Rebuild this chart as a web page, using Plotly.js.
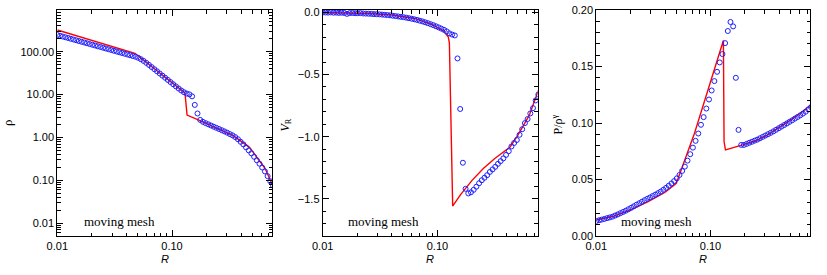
<!DOCTYPE html>
<html>
<head>
<meta charset="utf-8">
<script src="https://cdn.plot.ly/plotly-3.0.1.min.js"></script>
<style>html,body{margin:0;padding:0;background:#fff;}#chart{width:827px;height:275px;}</style>
</head>
<body>
<div id="chart"></div>
<script>
// Cell radii of the moving-mesh run (shared by all three panels)
const radius = [0.01000,0.01056,0.01114,0.01176,0.01242,0.01311,0.01384,0.01461,0.01542,0.01628,
0.01718,0.01814,0.01914,0.02021,0.02133,0.02252,0.02377,0.02509,0.02649,0.02796,
0.02951,0.03115,0.03289,0.03471,0.03664,0.03868,0.04083,0.04310,0.04550,0.04803,
0.05070,0.05352,0.05649,0.05963,0.06295,0.06645,0.07015,0.07405,0.07816,0.08251,
0.08710,0.09194,0.09705,0.1024,0.1081,0.1142,0.1205,0.1272,0.1343,0.1418,
0.1496,0.1579,0.1667,0.1760,0.1858,0.1961,0.2070,0.2185,0.2307,0.2435,
0.2570,0.2713,0.2864,0.3023,0.3192,0.3369,0.3556,0.3754,0.3963,0.4183,
0.4416,0.4661,0.4920,0.5194,0.5483,0.5788,0.6109,0.6449,0.6808,0.7186,0.7586];

// Moving mesh: density
const meshRho = [244.9,235.2,225.9,217.0,208.5,200.3,192.4,184.8,177.5,170.5,
163.8,157.3,151.1,145.2,139.4,133.9,128.6,123.6,118.7,114.0,
109.5,105.2,101.0,97.05,93.22,89.54,86.01,82.60,79.35,76.22,
72.11,66.83,60.95,54.95,49.20,43.85,39.08,34.83,31.05,27.67,
24.66,21.98,19.59,17.46,15.56,13.87,12.45,11.35,10.59,10.12,
9.12,5.75,3.63,2.57,2.32,2.16,2.03,1.905,1.786,1.679,
1.578,1.479,1.387,1.297,1.202,1.122,1.023,0.912,0.794,0.692,
0.589,0.501,0.427,0.355,0.295,0.245,0.1995,0.1622,0.1259,0.0955,0.0759];

// Moving mesh: radial velocity
const meshVel = [0.000,0.000,-0.001,0.001,-0.002,-0.001,-0.003,-0.002,-0.004,-0.011,
-0.005,-0.004,-0.006,-0.006,-0.005,-0.008,-0.009,-0.010,-0.011,-0.013,
-0.014,-0.015,-0.017,-0.019,-0.021,-0.023,-0.026,-0.029,-0.032,-0.035,
-0.038,-0.042,-0.046,-0.050,-0.055,-0.060,-0.066,-0.072,-0.079,-0.086,
-0.094,-0.102,-0.111,-0.120,-0.130,-0.140,-0.152,-0.168,-0.178,-0.185,
-0.370,-0.777,-1.210,-1.420,-1.457,-1.448,-1.428,-1.403,-1.375,-1.351,
-1.331,-1.310,-1.284,-1.264,-1.243,-1.219,-1.197,-1.175,-1.147,-1.117,
-1.079,-1.051,-1.027,-0.985,-0.940,-0.891,-0.858,-0.813,-0.770,-0.708,-0.660];

// Moving mesh: entropy P/rho^gamma
const meshEnt = [0.0133,0.0139,0.0145,0.0151,0.0158,0.0164,0.0171,0.0181,0.0191,0.0202,
0.0213,0.0224,0.0237,0.0250,0.0263,0.0277,0.0290,0.0303,0.0317,0.0329,
0.0341,0.0354,0.0366,0.0379,0.0393,0.0409,0.0426,0.0445,0.0465,0.0486,
0.0510,0.0540,0.0576,0.0614,0.0667,0.0724,0.0782,0.0842,0.0907,0.0984,
0.1052,0.1128,0.1208,0.1288,0.1371,0.1453,0.1536,0.1610,0.1707,0.1814,
0.1894,0.1855,0.1400,0.0939,0.0806,0.0806,0.0815,0.0825,0.0834,0.0844,
0.0853,0.0865,0.0877,0.0889,0.0901,0.0913,0.0926,0.0940,0.0954,0.0968,
0.0982,0.0996,0.1010,0.1024,0.1039,0.1053,0.1068,0.1083,0.1100,0.1120,0.1140];

// Reference solution (red lines)
const refRhoR = [0.01,0.02188,0.04753,0.1297,0.1352,0.1754,0.2512,0.3420,0.4732,0.5470,0.6457,0.7413,0.7586];
const refRho  = [320.6,173.8,91.8,10.96,3.342,2.466,1.622,1.109,0.5888,0.3565,0.1914,0.0851,0.0724];
const refVelR = [0.01,0.02512,0.03981,0.06310,0.08913,0.1122,0.1245,0.1271,0.1358,0.1585,0.1995,0.2512,0.3162,0.3981,0.4295,0.5012,0.6310,0.7586];
const refVel  = [0.0,-0.008,-0.020,-0.048,-0.095,-0.145,-0.198,-0.247,-1.559,-1.469,-1.354,-1.256,-1.176,-1.106,-1.083,-0.989,-0.829,-0.628];
const refEntR = [0.01,0.01413,0.01995,0.02818,0.03981,0.05023,0.07244,0.1297,0.1315,0.1352,0.1914,0.2512,0.3162,0.3981,0.5012,0.6310,0.7586];
const refEnt  = [0.0142,0.0175,0.0232,0.0302,0.0385,0.0467,0.0910,0.1730,0.0836,0.0762,0.0806,0.0845,0.0895,0.0958,0.1025,0.1095,0.1162];

// Tick labels
const xTickVals = [0.01, 0.1];
const xTickText = ['0.01', '0.10'];
const xMinor = [0.02,0.03,0.04,0.05,0.06,0.07,0.08,0.09,0.2,0.3,0.4,0.5,0.6,0.7];
const rhoTickVals = [0.01, 0.1, 1, 10, 100];
const rhoTickText = ['0.01', '0.10', '1.00', '10.00', '100.00'];
const rhoMinor = [0.006,0.007,0.008,0.009,0.02,0.03,0.04,0.05,0.06,0.07,0.08,0.09,
  0.2,0.3,0.4,0.5,0.6,0.7,0.8,0.9,2,3,4,5,6,7,8,9,20,30,40,50,60,70,80,90,200,300,400,500,600,700,800,900];
const panelLabel = 'moving mesh';

const W = 827, H = 275;
const px = v => v / W, py = v => 1 - v / H;
const yDom = [py(236), py(10)];
const tickFont = {family: 'Liberation Sans, Arial, sans-serif', size: 11, color: '#000'};
const majorLen = 6, minorLen = 3.5;

function xAxis(l, r, anchor) {
  return {type: 'log', domain: [px(l), px(r)], anchor: anchor, range: [-2, -0.126],
    tickmode: 'array', tickvals: xTickVals, ticktext: xTickText,
    ticks: 'inside', ticklen: majorLen, tickwidth: 1, tickcolor: '#000',
    minor: {tickmode: 'array', tickvals: xMinor, ticks: 'inside', ticklen: minorLen, tickwidth: 1, tickcolor: '#000', showgrid: false},
    showline: true, linecolor: '#000', linewidth: 1, mirror: 'allticks',
    showgrid: false, zeroline: false, tickfont: tickFont};
}
const common = {ticks: 'inside', ticklen: majorLen, tickwidth: 1, tickcolor: '#000', showline: true,
  linecolor: '#000', linewidth: 1, mirror: 'allticks', showgrid: false, zeroline: false,
  tickfont: tickFont, domain: yDom};

const red = {color: '#ff0000', width: 1.4};
const blueMarker = {symbol: 'circle-open', size: 5, color: '#1f1fff', line: {width: 1, color: '#1f1fff'}};

const traces = [
  {x: refRhoR, y: refRho, mode: 'lines', line: red, xaxis: 'x', yaxis: 'y', hoverinfo: 'skip'},
  {x: radius, y: meshRho, mode: 'markers', marker: blueMarker, xaxis: 'x', yaxis: 'y'},
  {x: refVelR, y: refVel, mode: 'lines', line: red, xaxis: 'x2', yaxis: 'y2', hoverinfo: 'skip'},
  {x: radius, y: meshVel, mode: 'markers', marker: blueMarker, xaxis: 'x2', yaxis: 'y2'},
  {x: refEntR, y: refEnt, mode: 'lines', line: red, xaxis: 'x3', yaxis: 'y3', hoverinfo: 'skip'},
  {x: radius, y: meshEnt, mode: 'markers', marker: blueMarker, xaxis: 'x3', yaxis: 'y3'}
];

const serif = 'Liberation Serif, Times New Roman, serif';
const sans = 'Liberation Sans, Arial, sans-serif';
function ann(text, x, y, opts) {
  return Object.assign({text: text, x: px(x), y: py(y), xref: 'paper', yref: 'paper',
    showarrow: false, xanchor: 'center', yanchor: 'middle'}, opts || {});
}
const annotations = [
  ann('ρ', 7, 123, {textangle: -90, font: {family: serif, size: 13, color: '#000'}}),
  ann('<i>V</i><sub>R</sub>', 285.5, 125, {textangle: -90, font: {family: serif, size: 12, color: '#000'}}),
  ann('P/ρ<sup>γ</sup>', 556.5, 125, {textangle: -90, font: {family: serif, size: 12, color: '#000'}}),
  ann('<i>R</i>', 164.8, 259, {font: {family: sans, size: 11, color: '#000'}}),
  ann('<i>R</i>', 430.2, 259, {font: {family: sans, size: 11, color: '#000'}}),
  ann('<i>R</i>', 703.4, 259, {font: {family: sans, size: 11, color: '#000'}}),
  ann(panelLabel, 81.5, 221.7, {xanchor: 'left', font: {family: serif, size: 13, color: '#000'}}),
  ann(panelLabel, 346.3, 221.7, {xanchor: 'left', font: {family: serif, size: 13, color: '#000'}}),
  ann(panelLabel, 619.3, 221.7, {xanchor: 'left', font: {family: serif, size: 13, color: '#000'}})
];

const layout = {
  width: W, height: H, margin: {l: 0, r: 0, t: 0, b: 0}, showlegend: false,
  paper_bgcolor: '#fff', plot_bgcolor: '#fff',
  xaxis: xAxis(57.3, 272.3, 'y'),
  xaxis2: xAxis(322.7, 537.7, 'y2'),
  xaxis3: xAxis(596.3, 810.3, 'y3'),
  yaxis: Object.assign({}, common, {type: 'log', anchor: 'x', range: [-2.296, 2.972],
    tickmode: 'array', tickvals: rhoTickVals, ticktext: rhoTickText,
    minor: {tickmode: 'array', tickvals: rhoMinor, ticks: 'inside', ticklen: minorLen, tickwidth: 1, tickcolor: '#000', showgrid: false}}),
  yaxis2: Object.assign({}, common, {anchor: 'x2', range: [-1.8, 0.02], tick0: 0, dtick: 0.5, tickformat: '.1f',
    minor: {tickmode: 'linear', tick0: 0, dtick: 0.1, ticks: 'inside', ticklen: minorLen, tickwidth: 1, tickcolor: '#000', showgrid: false}}),
  yaxis3: Object.assign({}, common, {anchor: 'x3', range: [0, 0.2], tick0: 0, dtick: 0.05, tickformat: '.2f',
    minor: {tickmode: 'linear', tick0: 0, dtick: 0.01, ticks: 'inside', ticklen: minorLen, tickwidth: 1, tickcolor: '#000', showgrid: false}}),
  annotations: annotations
};

Plotly.newPlot('chart', traces, layout, {staticPlot: true, displayModeBar: false});
</script>
</body>
</html>
